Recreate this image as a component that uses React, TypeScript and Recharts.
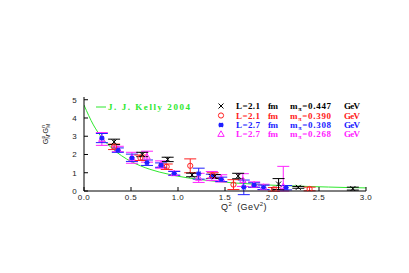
import React from 'react';
import {
  ComposedChart,
  Scatter,
  Line,
  XAxis,
  YAxis,
  ErrorBar,
  Customized
} from 'recharts';

// J. J. Kelly 2004 parametrisation
const kellyQ2 = [0, 0.1, 0.2, 0.3, 0.4, 0.5, 0.6, 0.7, 0.8, 0.9, 1.0, 1.2, 1.4, 1.6, 1.8, 2.0, 2.2, 2.4, 2.6, 2.8, 3.0];
const kellyG = [4.71, 3.62, 2.86, 2.33, 1.93, 1.62, 1.38, 1.19, 1.04, 0.92, 0.81, 0.65, 0.53, 0.44, 0.38, 0.32, 0.28, 0.245, 0.217, 0.19, 0.17];

// L=2.1 fm, m_pi=0.447 GeV
const blackQ2 = [0.32, 0.62, 0.89, 1.15, 1.39, 1.64, 2.07, 2.28, 2.86];
const blackG = [2.69, 2.0, 1.73, 0.88, 0.8, 0.82, 0.38, 0.2, 0.13];
const blackErr = [0.15, 0.12, 0.12, 0.1, 0.1, 0.15, 0.3, 0.05, 0.08];

// L=2.1 fm, m_pi=0.390 GeV
const redQ2 = [0.32, 0.6, 0.88, 1.13, 1.37, 1.59, 2.02, 2.4];
const redG = [2.42, 1.82, 1.33, 1.38, 0.85, 0.35, 0.09, 0.11];
const redErr = [0.15, 0.15, 0.15, 0.38, 0.15, 0.27, 0.1, 0.1];

// L=2.7 fm, m_pi=0.308 GeV
const blueQ2 = [0.19, 0.36, 0.51, 0.67, 0.82, 0.96, 1.22, 1.36, 1.46, 1.7, 1.81, 1.91, 2.15];
const blueG = [2.9, 2.24, 1.82, 1.55, 1.42, 0.97, 0.95, 0.8, 0.64, 0.2, 0.33, 0.2, 0.18];
const blueErr = [0.25, 0.12, 0.2, 0.15, 0.12, 0.1, 0.3, 0.12, 0.12, 0.4, 0.12, 0.12, 0.12];

// L=2.7 fm, m_pi=0.268 GeV
const magQ2 = [0.19, 0.36, 0.51, 0.67, 0.82, 0.96, 1.22, 1.36, 1.46, 1.69, 1.81, 1.91, 2.12];
const magG = [2.85, 2.3, 1.82, 1.88, 1.45, 0.97, 0.72, 0.82, 0.69, 0.6, 0.35, 0.22, 0.25];
const magErr: (number | number[])[] = [0.35, 0.15, 0.3, 0.3, 0.2, 0.12, 0.25, 0.25, 0.2, 0.35, 0.15, 0.15, [0.25, 1.1]];

const xTicks = [0, 0.5, 1, 1.5, 2, 2.5, 3];
const yTicks = [0, 1, 2, 3, 4, 5];

const GREEN = '#2ee82e';
const RED = '#ff2020';
const BLUE = '#2020ff';
const MAGENTA = '#ff22ff';

const build = (q2: number[], g: number[], err: (number | number[])[]) =>
  q2.map((x, i) => ({ x, y: g[i], err: err[i] }));

const kellyData = kellyQ2.map((x, i) => ({ x, y: kellyG[i] }));
const blackData = build(blackQ2, blackG, blackErr);
const redData = build(redQ2, redG, redErr);
const blueData = build(blueQ2, blueG, blueErr);
const magData = build(magQ2, magG, magErr);

const Cross = ({ cx, cy, color = '#000' }: any) => (
  <g stroke={color} strokeWidth={1}>
    <line x1={cx - 2.5} y1={cy - 2.5} x2={cx + 2.5} y2={cy + 2.5} />
    <line x1={cx - 2.5} y1={cy + 2.5} x2={cx + 2.5} y2={cy - 2.5} />
  </g>
);

const Circle = ({ cx, cy, color = RED }: any) => (
  <circle cx={cx} cy={cy} r={2.6} fill="none" stroke={color} strokeWidth={1} />
);

const Star = ({ cx, cy, color = BLUE }: any) => (
  <g stroke={color} strokeWidth={1.1}>
    <circle cx={cx} cy={cy} r={1.6} fill={color} />
    <line x1={cx - 2.8} y1={cy} x2={cx + 2.8} y2={cy} />
    <line x1={cx - 2} y1={cy - 2} x2={cx + 2} y2={cy + 2} />
    <line x1={cx - 2} y1={cy + 2} x2={cx + 2} y2={cy - 2} />
  </g>
);

const Triangle = ({ cx, cy, color = MAGENTA }: any) => (
  <polygon
    points={`${cx},${cy - 3.2} ${cx + 3.2},${cy + 2.4} ${cx - 3.2},${cy + 2.4}`}
    fill="none"
    stroke={color}
    strokeWidth={1}
  />
);

const serif = '"Liberation Serif", "Times New Roman", serif';
const sans = '"Liberation Sans", Arial, sans-serif';

const legendRows = [
  { color: '#000', mark: Cross, l: 'L=2.1', m: '=0.447', cy: 106 },
  { color: RED, mark: Circle, l: 'L=2.1', m: '=0.390', cy: 115.5 },
  { color: BLUE, mark: Star, l: 'L=2.7', m: '=0.308', cy: 125 },
  { color: MAGENTA, mark: Triangle, l: 'L=2.7', m: '=0.268', cy: 134 }
];

const Overlay = () => (
  <g>
    {/* Kelly legend */}
    <line x1={96} y1={107} x2={106} y2={107} stroke={GREEN} strokeWidth={1} />
    <text x={108} y={110} fill={GREEN} fontFamily={serif} fontWeight="bold" fontSize={9} textLength={82} lengthAdjust="spacing">
      J. J. Kelly 2004
    </text>
    {legendRows.map((r) => {
      const Mark = r.mark;
      return (
        <g key={r.m} fill={r.color} fontFamily={serif} fontWeight="bold" fontSize={9}>
          <Mark cx={221} cy={r.cy} color={r.color} />
          <text x={236} y={r.cy + 3} textLength={24} lengthAdjust="spacing">{r.l}</text>
          <text x={268} y={r.cy + 3} textLength={10} lengthAdjust="spacing">fm</text>
          <text x={290} y={r.cy + 3} letterSpacing={0.7}>
            m<tspan fontSize={6} dy={2}>π</tspan>
            <tspan dy={-2}>{r.m}</tspan>
          </text>
          <text x={344} y={r.cy + 3} textLength={16} lengthAdjust="spacing">GeV</text>
        </g>
      );
    })}
    {/* x axis title */}
    <text x={244} y={210} textAnchor="middle" fontFamily={sans} fontSize={9} fill="#222" letterSpacing={0.4}>
      Q<tspan fontSize={6} dy={-4}>2</tspan>
      <tspan dy={4} dx={5}>(GeV</tspan>
      <tspan fontSize={6} dy={-4}>2</tspan>
      <tspan dy={4}>)</tspan>
    </text>
    {/* y axis title */}
    <text x={48} y={134} textAnchor="middle" fontFamily={sans} fontSize={7} fill="#222" transform="rotate(-90 48 134)">
      G<tspan fontSize={5} dy={2}>M</tspan>
      <tspan fontSize={5} dy={-5} dx={-4}>p</tspan>
      <tspan dy={3}>-G</tspan>
      <tspan fontSize={5} dy={2}>M</tspan>
      <tspan fontSize={5} dy={-5} dx={-4}>n</tspan>
    </text>
  </g>
);

const tickStyle = { fill: '#222', fontSize: 8, fontFamily: sans, letterSpacing: 0.4 };

export default function App() {
  return (
    <div style={{ position: 'absolute', left: 0, top: 0, width: 409, height: 273, background: '#fff' }}>
      <ComposedChart width={409} height={273} margin={{ top: 97, right: 43, left: 64, bottom: 52 }}>
        <XAxis
          xAxisId="b"
          dataKey="x"
          type="number"
          domain={[0, 3]}
          ticks={xTicks}
          tickFormatter={(v: number) => v.toFixed(1)}
          height={30}
          tickSize={-4}
          tickMargin={7}
          stroke="#000"
          tick={tickStyle}
          allowDataOverflow
        />
        <XAxis
          xAxisId="t"
          orientation="top"
          dataKey="x"
          type="number"
          domain={[0, 3]}
          ticks={xTicks}
          height={0}
          tickSize={-4}
          tick={false}
          stroke="#000"
        />
        <YAxis
          yAxisId="l"
          dataKey="y"
          type="number"
          domain={[0, 5.15]}
          ticks={yTicks}
          width={20}
          tickSize={-4}
          tickMargin={11}
          stroke="#000"
          tick={tickStyle}
          allowDataOverflow
        />
        <YAxis
          yAxisId="r"
          orientation="right"
          dataKey="y"
          type="number"
          domain={[0, 5.15]}
          ticks={yTicks}
          width={0}
          tickSize={-4}
          tick={false}
          stroke="#000"
        />
        <Line
          xAxisId="b"
          yAxisId="l"
          data={kellyData}
          dataKey="y"
          type="monotone"
          stroke={GREEN}
          strokeWidth={1}
          dot={false}
          isAnimationActive={false}
        />
        <Scatter xAxisId="b" yAxisId="l" data={magData} dataKey="y" shape={<Triangle />} isAnimationActive={false}>
          <ErrorBar dataKey="err" direction="y" width={6} stroke={MAGENTA} strokeWidth={1} />
        </Scatter>
        <Scatter xAxisId="b" yAxisId="l" data={blueData} dataKey="y" shape={<Star />} isAnimationActive={false}>
          <ErrorBar dataKey="err" direction="y" width={6} stroke={BLUE} strokeWidth={1} />
        </Scatter>
        <Scatter xAxisId="b" yAxisId="l" data={redData} dataKey="y" shape={<Circle />} isAnimationActive={false}>
          <ErrorBar dataKey="err" direction="y" width={6} stroke={RED} strokeWidth={1} />
        </Scatter>
        <Scatter xAxisId="b" yAxisId="l" data={blackData} dataKey="y" shape={<Cross />} isAnimationActive={false}>
          <ErrorBar dataKey="err" direction="y" width={6} stroke="#000" strokeWidth={1} />
        </Scatter>
        <Customized component={Overlay} />
      </ComposedChart>
    </div>
  );
}
